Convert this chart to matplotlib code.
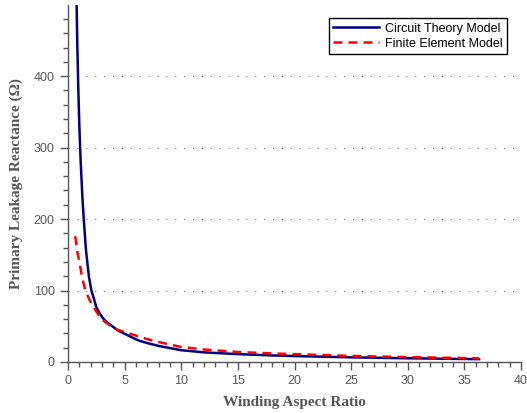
import matplotlib
matplotlib.use("Agg")
import matplotlib.pyplot as plt
from matplotlib.ticker import MultipleLocator

# Data
ct_x = [0.72, 0.76, 0.82, 0.9, 1.0, 1.12, 1.27, 1.39, 1.59, 1.85, 2.08, 2.3, 2.49, 2.8, 3.1, 3.41,
        3.7, 4.42, 5.0, 6.24, 7.0, 8.0, 10.0, 12.0, 15.0, 18.0, 20.0, 25.0, 30.0, 36.3]
ct_y = [542, 500, 446, 388, 331, 280, 231, 200, 156, 119, 99, 88, 77, 68, 61, 56,
        52.5, 44, 39.5, 30, 26.5, 22.5, 16.5, 13.5, 11, 9.2, 8.3, 6.5, 5.2, 4.0]

fe_x = [0.62, 0.66, 0.8, 1.04, 1.25, 1.53, 1.9, 2.25, 2.7, 3.12, 3.7, 4.4, 5.4, 6.0, 7.0, 8.0,
        10.0, 12.0, 15.0, 18.0, 20.0, 25.0, 30.0, 36.3]
fe_y = [176, 174, 156, 137, 118, 100, 87, 77, 66, 58, 51, 45, 40, 37, 32, 28,
        21, 17.5, 14, 12, 11, 8.5, 6.8, 5.2]

fig = plt.figure(figsize=(5.27, 4.13), dpi=100)
ax = fig.add_axes([68/527, 1-362/413, (521-68)/527, (362-5)/413])

ax.plot(ct_x, ct_y, color="#000080", lw=1.8, label="Circuit Theory Model", zorder=3)
ax.plot(fe_x, fe_y, color="#ff0000", lw=1.8, ls=(0, (3.6, 2.4)), label="Finite Element Model", zorder=3)

ax.set_xlim(0, 40)
ax.set_ylim(0, 499.5)
ax.xaxis.set_major_locator(MultipleLocator(5))
ax.xaxis.set_minor_locator(MultipleLocator(1))
ax.yaxis.set_major_locator(MultipleLocator(100))
ax.yaxis.set_minor_locator(MultipleLocator(20))

for y in [100, 200, 300, 400]:
    ax.axhline(y, color="#777777", lw=0.8, ls=(0, (1, 7)), zorder=1)

for s in ["top", "right"]:
    ax.spines[s].set_visible(False)
for s in ["left", "bottom"]:
    ax.spines[s].set_color("#555555")
    ax.spines[s].set_linewidth(1.0)

ax.tick_params(which="major", direction="out", length=6, width=1.0, color="#555555",
               labelcolor="#555555", labelsize=9)
ax.tick_params(which="minor", direction="out", length=3.5, width=1.0, color="#555555")
for lab in ax.get_xticklabels() + ax.get_yticklabels():
    lab.set_fontfamily("Liberation Sans")

ax.set_xlabel("Winding Aspect Ratio", fontfamily="Liberation Serif", fontweight="bold",
              fontsize=11, color="#555555", labelpad=6)
ax.set_ylabel("Primary Leakage Reactance (Ω)", fontfamily="Liberation Serif", fontweight="bold",
              fontsize=11, color="#555555", labelpad=8)

leg = ax.legend(loc="upper right", bbox_to_anchor=(513/527, 1-12/413), bbox_transform=fig.transFigure,
                fancybox=False, framealpha=1, edgecolor="black",
                prop={"family": "Liberation Sans", "size": 9}, handlelength=3.7,
                borderpad=0.35, labelspacing=0.25, handletextpad=0.45)
leg.get_frame().set_linewidth(1.0)

fig.savefig("out.png", dpi=100)
